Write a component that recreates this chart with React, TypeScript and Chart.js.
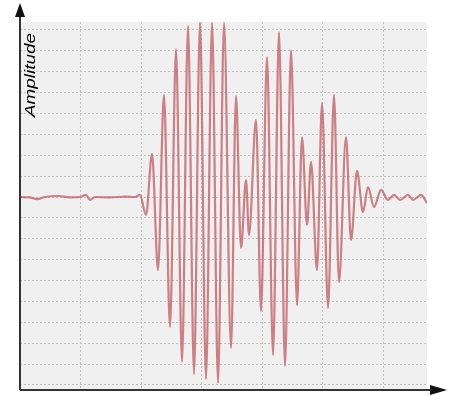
import React, { useEffect, useRef } from "react";
import { Chart, registerables } from "chart.js";

Chart.register(...registerables);

// Signal extremes (time units, amplitude units)
const timeValues = [
  0, 1.65, 2.81, 4.13, 6.28, 8.26, 9.92, 10.91, 11.57, 12.4, 14.88, 17.36, 19.01,
  19.83, 20.83, 21.82, 22.81, 23.8, 24.79, 25.79, 26.78, 27.77, 28.76, 29.75,
  30.74, 31.74, 32.73, 33.72, 34.88, 35.7, 36.53, 37.36, 37.85, 39.01, 39.83,
  40.83, 41.82, 42.81, 43.8, 44.79, 45.79, 46.61, 47.44, 48.1, 49.09, 49.92,
  50.91, 51.9, 52.73, 53.88, 54.71, 55.7, 56.69, 57.52, 58.51, 59.67, 60.83,
  61.82, 62.81, 64.13, 64.96, 66.28, 67.27,
];
const amplitudeValues = [
  0, -0.02, -0.1, 0, 0.05, -0.02, 0, 0.1, -0.14, 0, -0.02, 0.02, 0,
  0.1, -0.86, 2.06, -3.5, 4.89, -6.23, 7.09, -7.9, 8.19, -8.48, 8.35,
  -8.72, 8.35, -8.91, 8.35, -7.23, 4.84, -2.44, 0.81, -1.82, 3.69, -5.46,
  6.7, -7.57, 7.9, -8.09, 7.04, -5.17, 2.87, -1.34, 1.68, -3.5, 4.5,
  -5.32, 4.89, -4.07, 2.87, -2.06, 1.25, -0.72, 0.48, -0.48, 0.34, -0.14,
  0.1, -0.14, 0.1, -0.14, 0.1, -0.29,
];
const xGridTicks = [0, 10, 20, 30, 40, 50, 60];
const yGridTicks = [-9, -8, -7, -6, -5, -4, -3, -2, -1, 0, 1, 2, 3, 4, 5, 6, 7, 8];
const xRange = [0, 67.27];
const yRange = [-9.24, 8.38];
const yAxisLabel = "Amplitude";

const plotBackground = {
  id: "plotBackground",
  beforeDraw(chart: any) {
    const { ctx, chartArea } = chart;
    ctx.save();
    ctx.fillStyle = "#f0f0f0";
    ctx.fillRect(chartArea.left, chartArea.top, chartArea.right - chartArea.left, chartArea.bottom - chartArea.top);
    ctx.restore();
  },
};

const arrowAxes = {
  id: "arrowAxes",
  afterDraw(chart: any) {
    const { ctx, chartArea } = chart;
    const l = chartArea.left;
    const b = chartArea.bottom;
    ctx.save();
    ctx.strokeStyle = "#333";
    ctx.fillStyle = "#111";
    ctx.lineWidth = 2;
    ctx.beginPath();
    ctx.moveTo(l, b);
    ctx.lineTo(l, 14);
    ctx.moveTo(l, b);
    ctx.lineTo(432, b);
    ctx.stroke();
    ctx.beginPath();
    ctx.moveTo(l, 3);
    ctx.lineTo(l - 5, 17);
    ctx.lineTo(l + 5, 17);
    ctx.closePath();
    ctx.fill();
    ctx.beginPath();
    ctx.moveTo(447, b);
    ctx.lineTo(430, b - 5);
    ctx.lineTo(430, b + 5);
    ctx.closePath();
    ctx.fill();
    // axis label
    ctx.translate(35, 75);
    ctx.rotate(-Math.PI / 2);
    ctx.scale(1.35, 1);
    ctx.font = 'italic 14px "Liberation Sans", Arial, sans-serif';
    ctx.textAlign = "center";
    ctx.textBaseline = "alphabetic";
    ctx.fillStyle = "#000";
    ctx.fillText(yAxisLabel, 0, 0);
    ctx.restore();
  },
};

export default function App() {
  const ref = useRef<HTMLCanvasElement | null>(null);
  useEffect(() => {
    if (!ref.current) return;
    const points = timeValues.map((t, i) => ({ x: t, y: amplitudeValues[i] }));
    const chart = new Chart(ref.current, {
      type: "line",
      data: {
        datasets: [
          {
            data: points,
            borderColor: "rgba(195,95,100,0.78)",
            borderWidth: 2.2,
            pointRadius: 0,
            cubicInterpolationMode: "monotone",
            fill: false,
          },
        ],
      },
      options: {
        animation: false,
        responsive: false,
        maintainAspectRatio: false,
        layout: { padding: { left: 20, top: 22, right: 24, bottom: 6 } },
        plugins: { legend: { display: false }, tooltip: { enabled: false } },
        scales: {
          x: {
            type: "linear",
            min: xRange[0],
            max: xRange[1],
            afterBuildTicks: (s: any) => {
              s.ticks = xGridTicks.map((v) => ({ value: v }));
            },
            ticks: { display: false },
            grid: { color: "#c2c2c2", lineWidth: 1, drawTicks: false },
            border: { display: false, dash: [2, 2] },
          },
          y: {
            type: "linear",
            min: yRange[0],
            max: yRange[1],
            afterBuildTicks: (s: any) => {
              s.ticks = yGridTicks.map((v) => ({ value: v }));
            },
            ticks: { display: false },
            grid: { color: "#c2c2c2", lineWidth: 1, drawTicks: false },
            border: { display: false, dash: [2, 2] },
          },
        },
      },
      plugins: [plotBackground, arrowAxes],
    });
    return () => chart.destroy();
  }, []);
  return (
    <div style={{ position: "fixed", left: 0, top: 0, width: 451, height: 396, background: "#fff" }}>
      <canvas ref={ref} width={451} height={396} style={{ display: "block" }} />
    </div>
  );
}
